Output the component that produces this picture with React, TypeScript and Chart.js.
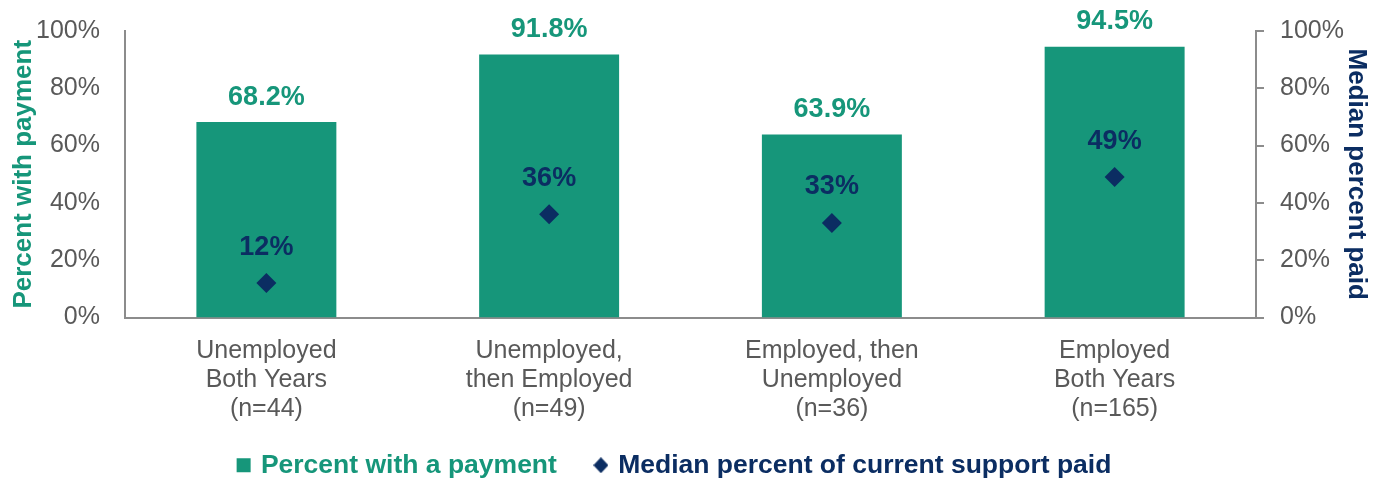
import React, { useEffect, useRef } from "react";
import { Chart, registerables } from "chart.js";

Chart.register(...registerables);

const categories: string[][] = [
  ["Unemployed", "Both Years", "(n=44)"],
  ["Unemployed,", "then Employed", "(n=49)"],
  ["Employed, then", "Unemployed", "(n=36)"],
  ["Employed", "Both Years", "(n=165)"],
];
const percentWithPayment: number[] = [68.2, 91.8, 63.9, 94.5];
const medianPercentPaid: number[] = [12, 36, 33, 49];
const tickValues: number[] = [0, 20, 40, 60, 80, 100];

const GREEN = "#16967A";
const NAVY = "#0B2D62";
const GRAY = "#595959";
const AXIS = "#8C8C8C";
const FONT = "'Liberation Sans', Arial, Helvetica, sans-serif";

function makeDiamond(): HTMLCanvasElement {
  const c = document.createElement("canvas");
  c.width = 15;
  c.height = 16;
  const g = c.getContext("2d")!;
  g.fillStyle = NAVY;
  g.beginPath();
  g.moveTo(7.5, 0);
  g.lineTo(15, 8);
  g.lineTo(7.5, 16);
  g.lineTo(0, 8);
  g.closePath();
  g.fill();
  return c;
}

const labelPlugin = {
  id: "valueLabels",
  afterDatasetsDraw(chart: any) {
    const ctx = chart.ctx;
    ctx.save();
    ctx.textAlign = "center";
    ctx.textBaseline = "middle";
    ctx.font = `bold 27px ${FONT}`;
    const barMeta = chart.getDatasetMeta(0);
    barMeta.data.forEach((el: any, i: number) => {
      ctx.fillStyle = GREEN;
      ctx.fillText(percentWithPayment[i].toFixed(1) + "%", el.x, el.y - 25);
    });
    const lineMeta = chart.getDatasetMeta(1);
    lineMeta.data.forEach((el: any, i: number) => {
      ctx.fillStyle = NAVY;
      ctx.fillText(medianPercentPaid[i] + "%", el.x, el.y - 36);
    });
    ctx.restore();
  },
};

const legendShift = {
  id: "legendShift",
  afterLayout(chart: any) {
    if (chart.legend) {
      chart.legend.left -= 19;
      chart.legend.right -= 19;
    }
  },
};

export default function App() {
  const ref = useRef<HTMLCanvasElement | null>(null);
  useEffect(() => {
    if (!ref.current) return;
    const diamond = makeDiamond();
    const chart = new Chart(ref.current, {
      type: "bar",
      data: {
        labels: categories,
        datasets: [
          {
            type: "bar",
            label: "Percent with a payment",
            data: percentWithPayment,
            backgroundColor: GREEN,
            borderWidth: 0,
            yAxisID: "y",
            barPercentage: 0.495,
            categoryPercentage: 1,
            order: 2,
          } as any,
          {
            type: "line",
            label: "Median percent of current support paid",
            data: medianPercentPaid,
            showLine: false,
            pointStyle: "rectRot",
            pointRadius: 10,
            pointBackgroundColor: NAVY,
            pointBorderWidth: 0,
            borderWidth: 0,
            backgroundColor: NAVY,
            borderColor: NAVY,
            yAxisID: "y1",
            order: 1,
          } as any,
        ],
      },
      options: {
        responsive: true,
        maintainAspectRatio: false,
        animation: false,
        layout: { padding: { top: 31, left: 0, right: 0, bottom: -8.5 } },
        plugins: {
          tooltip: { enabled: false },
          legend: {
            position: "bottom",
            labels: {
              usePointStyle: true,
              boxWidth: 8,
              boxHeight: 14,
              padding: 40,
              font: { family: FONT, size: 26.5, weight: "bold" },
              generateLabels: (c: any) =>
                c.data.datasets.map((ds: any, i: number) => ({
                  text: ds.label,
                  fillStyle: i === 0 ? GREEN : NAVY,
                  strokeStyle: i === 0 ? GREEN : NAVY,
                  fontColor: i === 0 ? GREEN : NAVY,
                  lineWidth: 0,
                  pointStyle: i === 0 ? "rect" : diamond,
                  hidden: false,
                  datasetIndex: i,
                })),
            },
          },
        },
        scales: {
          x: {
            grid: { display: false, drawTicks: false },
            border: { display: true, color: AXIS, width: 2 },
            ticks: {
              color: GRAY,
              padding: 19,
              maxRotation: 0,
              autoSkip: false,
              font: { family: FONT, size: 25, lineHeight: 1.16 },
            },
            afterFit: (s: any) => {
              s.height = 94.5;
              s._computeLabelArea = () => undefined;
            },
          },
          y: {
            position: "left",
            min: 0,
            max: 100,
            afterBuildTicks: (s: any) => {
              s.ticks = tickValues.map((v) => ({ value: v }));
            },
            grid: { display: false, drawTicks: false },
            border: { display: true, color: AXIS, width: 2 },
            ticks: {
              color: GRAY,
              padding: 25,
              font: { family: FONT, size: 25 },
              callback: (v: any) => v + "%",
            },
            title: {
              display: true,
              text: "Percent with payment",
              color: GREEN,
              font: { family: FONT, size: 26, weight: "bold" },
              padding: { top: 8, bottom: 0 },
            },
            afterFit: (s: any) => {
              s.width = 125;
              s.paddingTop = 0;
              s.paddingBottom = 0;
            },
          },
          y1: {
            position: "right",
            min: 0,
            max: 100,
            afterBuildTicks: (s: any) => {
              s.ticks = tickValues.map((v) => ({ value: v }));
            },
            grid: {
              display: true,
              drawOnChartArea: false,
              drawTicks: true,
              tickLength: 8,
              color: AXIS,
              lineWidth: 2,
            },
            border: { display: true, color: AXIS, width: 2 },
            ticks: {
              color: GRAY,
              padding: 16,
              font: { family: FONT, size: 25 },
              callback: (v: any) => v + "%",
            },
            title: {
              display: true,
              text: "Median percent paid",
              color: NAVY,
              font: { family: FONT, size: 26, weight: "bold" },
              padding: { top: 17, bottom: 0 },
            },
            afterFit: (s: any) => {
              s.width = 133;
              s.paddingTop = 0;
              s.paddingBottom = 0;
            },
          },
        },
      } as any,
      plugins: [labelPlugin, legendShift],
    });
    return () => chart.destroy();
  }, []);
  return (
    <div style={{ position: "fixed", left: 0, top: 0, width: 1389, height: 480, background: "#fff" }}>
      <canvas ref={ref} />
    </div>
  );
}
